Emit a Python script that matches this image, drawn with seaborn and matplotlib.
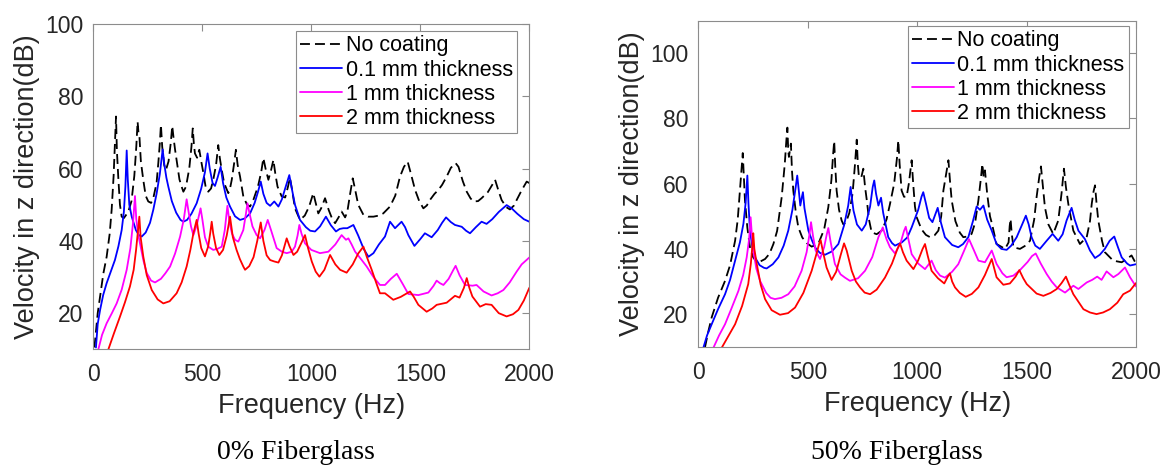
import pandas as pd
import numpy as np
import matplotlib
matplotlib.use('Agg')
import matplotlib.pyplot as plt
import seaborn as sns

#DATA (frequency Hz, velocity dB)
series_names = ['No coating', '0.1 mm thickness', '1 mm thickness', '2 mm thickness']
series_colors = ['black', '#0000FF', '#FF00FF', '#FF0000']

#0% fiberglass
left_none = [(5, 10.5), (20, 20), (31, 24.6), (46, 31), (61, 35.6), (75, 42), (84, 48.6), (93, 58), (100, 68), (104, 74.4),
             (108, 65), (115, 56.9), (122, 50), (130, 46.7), (140, 46.3), (160, 48), (175, 51), (188, 58), (197, 66), (203, 73),
             (207, 70), (211, 69.3), (218, 62), (229, 56.9), (240, 52.5), (252, 50.9), (265, 50.5), (275, 51.8), (290, 56),
             (298, 61.5), (305, 67), (310, 72.1), (316, 66), (325, 61), (333, 59.6), (345, 62), (355, 67), (362, 71.8),
             (368, 68.5), (375, 65.2), (385, 61), (395, 57), (405, 55), (413, 53.6), (425, 55), (440, 60), (450, 66),
             (456, 71.1), (461, 67), (466, 64.2), (476, 63), (486, 65.2), (495, 62), (505, 58.7), (515, 55), (527, 53.6),
             (540, 54.5), (550, 56.9), (563, 61), (573, 66.5), (580, 63), (589, 59.6), (600, 56), (619, 53.2), (627, 54.5),
             (635, 56.9), (646, 61.5), (654, 65.2), (662, 61), (673, 57.8), (688, 52.3), (705, 50), (719, 49.5), (735, 51.5),
             (755, 55), (770, 59), (780, 62.9), (790, 60), (803, 56.9), (815, 59.5), (826, 62.4), (835, 58.5), (845, 55),
             (864, 52.3), (880, 52), (893, 55), (902, 57.5), (912, 54), (925, 49), (948, 45.8), (970, 47), (990, 49.5),
             (1009, 53.2), (1020, 50.5), (1032, 47.6), (1045, 49), (1063, 51.8), (1080, 48.5), (1095, 46.2), (1109, 44.9),
             (1125, 46.5), (1139, 48.1), (1155, 46.5), (1165, 48), (1178, 53), (1190, 57.3), (1200, 54.5), (1215, 50),
             (1239, 47.2), (1260, 46.7), (1285, 46.7), (1310, 47), (1330, 47.6), (1361, 49.5), (1385, 52.5), (1407, 57.8),
             (1425, 60.5), (1442, 61.9), (1455, 59), (1476, 54.1), (1495, 51), (1514, 49), (1530, 49.8), (1544, 51.3),
             (1565, 53), (1583, 54.1), (1600, 55.5), (1621, 57.8), (1640, 60.2), (1662, 61.5), (1675, 60.5), (1695, 56.5),
             (1713, 53.6), (1730, 51.8), (1743, 50.9), (1765, 51), (1781, 51.8), (1810, 53.5), (1830, 55.5), (1843, 56.9),
             (1858, 54), (1873, 51.3), (1895, 49.3), (1911, 48.7), (1930, 49.8), (1942, 51.3), (1965, 54), (1988, 56.4),
             (2000, 56)]
left_01mm = [(12, 10.5), (20, 17), (31, 20.9), (45, 25), (61, 28.3), (80, 31.5), (99, 34.7), (115, 38.5), (130, 43),
             (140, 48), (147, 55), (153, 65), (158, 57), (165, 50), (176, 46.7), (195, 43), (210, 41.5), (222, 41.2),
             (240, 42.3), (260, 45), (275, 48.6), (290, 53), (305, 58.5), (318, 65.3), (326, 61), (335, 57.5), (344, 55),
             (360, 51), (380, 47.8), (400, 45.8), (413, 45.3), (430, 45.8), (450, 47.5), (474, 50.4), (495, 54.5),
             (512, 59), (524, 64.2), (534, 60), (547, 56), (558, 55.2), (570, 57.5), (584, 60.5), (595, 56), (610, 52),
             (627, 49.5), (650, 46.8), (673, 45.8), (695, 46.2), (719, 47.6), (740, 50.5), (755, 53.5), (768, 56.4),
             (780, 53), (795, 50.5), (811, 49.7), (830, 50.9), (849, 49.5), (865, 51.5), (880, 54.5), (899, 58.2),
             (912, 54), (925, 50), (948, 45.8), (975, 43.8), (995, 42.8), (1017, 42.6), (1040, 44), (1067, 46.7),
             (1090, 44.3), (1113, 42.6), (1130, 43.3), (1147, 43.5), (1165, 43.5), (1193, 44.4), (1215, 41.5),
             (1240, 37.8), (1262, 35.6), (1285, 36.6), (1310, 39), (1338, 41.2), (1361, 45.3), (1384, 43.5),
             (1414, 45.3), (1430, 43.8), (1445, 41.6), (1473, 38.6), (1500, 40.5), (1521, 42.1), (1552, 41), (1580, 43),
             (1600, 45), (1618, 46.5), (1640, 45.2), (1659, 44.4), (1690, 43.9), (1710, 42.8), (1728, 42.1), (1755, 43.8),
             (1781, 45.3), (1804, 44.7), (1830, 46), (1860, 48), (1896, 49.9), (1919, 49), (1945, 47.5), (1975, 46),
             (2000, 45.3)]
left_1mm = [(23, 10), (40, 14), (61, 17.2), (85, 20), (107, 22.7), (130, 26.5), (153, 32), (170, 38), (182, 45),
            (191, 52.4), (197, 46), (205, 42), (214, 39.3), (230, 34.5), (245, 31.1), (265, 29), (283, 28.5), (310, 29.5),
            (330, 31), (352, 32.9), (375, 36.5), (398, 41.2), (415, 46), (428, 51.5), (437, 48), (448, 44), (459, 41.6),
            (475, 44.5), (492, 49), (500, 46), (512, 41), (527, 38.4), (550, 37.5), (570, 37.8), (589, 38.4), (603, 43),
            (615, 49.7), (625, 45), (636, 42), (650, 40.3), (665, 39.8), (688, 43), (700, 47.5), (707, 50.4), (715, 48),
            (730, 44), (749, 41.6), (765, 40.7), (785, 43), (800, 45.8), (815, 43), (841, 38), (865, 37), (887, 36.6),
            (910, 37), (925, 38.4), (937, 41.5), (945, 44.4), (955, 42), (971, 39.3), (1000, 37.5), (1040, 36.6),
            (1078, 37), (1110, 39), (1139, 41.6), (1159, 40.3), (1170, 40.7), (1185, 39), (1201, 37), (1230, 34.8),
            (1254, 32.9), (1285, 30), (1315, 27.8), (1338, 27.8), (1365, 29.5), (1392, 30.9), (1420, 28), (1445, 25.3),
            (1491, 25), (1537, 25.7), (1560, 27.5), (1575, 29), (1590, 28.3), (1606, 27.8), (1630, 29.5), (1650, 31.8),
            (1662, 33.1), (1680, 30.5), (1705, 27.8), (1740, 27.6), (1758, 27.8), (1790, 26), (1827, 24.9), (1855, 25.5),
            (1881, 26.4), (1910, 28.5), (1942, 31.5), (1965, 33.5), (2000, 35.4)]
left_2mm = [(69, 10), (95, 14.5), (122, 19), (145, 23), (168, 27.4), (185, 32), (196, 37.5), (205, 43), (211, 46.7),
            (217, 41), (229, 35.7), (245, 30.5), (268, 26.4), (295, 23.8), (321, 22.7), (350, 23.3), (382, 25.5),
            (405, 28.5), (428, 32.9), (445, 37.5), (459, 42.1), (474, 45.8), (483, 42), (495, 38), (512, 35.7),
            (527, 38.5), (537, 42.5), (543, 45.3), (550, 42), (563, 38), (578, 36.1), (595, 37.5), (612, 41.5),
            (627, 46.7), (640, 41), (657, 37.5), (672, 35), (688, 32.9), (696, 32), (715, 33), (735, 35.5), (752, 40),
            (768, 45.1), (780, 40), (795, 36), (811, 34.7), (830, 34.3), (849, 34), (865, 36), (887, 40.7), (900, 38.5),
            (918, 36.1), (935, 37), (955, 39.5), (971, 41.6), (985, 38), (1002, 34.3), (1020, 31.5), (1037, 30.1),
            (1060, 32), (1086, 36.1), (1110, 33.5), (1132, 32), (1162, 31.2), (1190, 33.5), (1215, 36.5), (1239, 38.4),
            (1255, 35.5), (1277, 32), (1300, 28), (1315, 25.5), (1338, 25.5), (1376, 23.7), (1410, 24.5), (1453, 26),
            (1470, 24.5), (1491, 22.3), (1529, 20.4), (1555, 21.3), (1575, 22.3), (1621, 22.9), (1659, 24.8),
            (1680, 24.3), (1700, 27), (1713, 29.7), (1725, 27), (1739, 24.6), (1774, 21.8), (1800, 22.5), (1827, 22.3),
            (1860, 20), (1896, 19.1), (1925, 19.7), (1950, 20.9), (1975, 23.5), (2000, 27)]

#50% fiberglass
right_none = [(30, 9.7), (45, 14.5), (61, 19), (90, 25), (122, 30.2), (145, 35), (168, 42.5), (180, 49), (190, 58),
              (198, 65), (203, 69.4), (208, 62), (213, 54.9), (224, 46.5), (236, 40.5), (250, 37.5), (267, 35.9),
              (285, 36.2), (305, 36.9), (325, 38.5), (343, 41.5), (360, 45.5), (381, 55.9), (395, 66), (402, 73),
              (407, 77.2), (411, 70), (414, 68.2), (419, 70.5), (423, 72.3), (428, 64), (434, 57.9), (445, 51.5),
              (457, 46.6), (475, 43.5), (495, 41.8), (518, 40.7), (548, 41.5), (575, 46), (594, 52.8), (608, 61),
              (616, 69), (621, 73.1), (626, 65), (632, 57.9), (643, 52), (655, 48.7), (663, 47.5), (675, 48.2), (690, 51),
              (705, 57), (716, 66), (724, 73.5), (729, 66), (734, 62), (745, 62), (754, 64.6), (762, 59), (770, 54.9),
              (780, 49), (792, 45.1), (815, 44.5), (838, 45.6), (860, 49), (876, 53.8), (895, 60), (908, 68), (914, 73.3),
              (920, 66), (929, 57.9), (940, 56), (952, 56), (962, 60), (975, 67.2), (982, 60), (990, 53), (998, 49.7),
              (1020, 46), (1040, 44.3), (1059, 43.6), (1080, 44.2), (1097, 45.6), (1110, 50), (1120, 57.9), (1130, 62),
              (1143, 67.2), (1150, 61), (1158, 54.9), (1175, 48.5), (1195, 45), (1211, 43.6), (1230, 43.8), (1249, 44.6),
              (1265, 48), (1280, 54.9), (1292, 62), (1298, 66.1), (1304, 62), (1310, 64.1), (1320, 57), (1333, 50),
              (1341, 48), (1363, 41.5), (1402, 40), (1418, 42), (1423, 47), (1427, 49.2), (1432, 45), (1440, 40.5),
              (1470, 40), (1495, 41), (1516, 42.5), (1535, 49), (1546, 55.9), (1558, 62), (1566, 65.3), (1575, 59),
              (1584, 52.8), (1600, 47.5), (1622, 44.6), (1645, 48.7), (1660, 57), (1671, 64.6), (1680, 59), (1691, 53.8),
              (1714, 45.6), (1744, 41.5), (1775, 43.6), (1790, 48.5), (1798, 53.8), (1806, 57.5), (1813, 59.5),
              (1820, 54), (1828, 48.7), (1845, 42.5), (1858, 39), (1896, 36.4), (1935, 35.9), (1960, 37), (1980, 38),
              (2000, 35.5)]
right_01mm = [(23, 9.7), (40, 13.5), (61, 16.9), (90, 21.5), (122, 26.1), (145, 30.5), (168, 36.4), (190, 42),
              (206, 47.7), (216, 54), (224, 62.5), (229, 54), (236, 45.6), (247, 40.5), (259, 37.4), (280, 35),
              (300, 34.2), (312, 34), (340, 35.3), (366, 37.4), (390, 41), (411, 45.6), (430, 52), (445, 59), (452, 62.5),
              (459, 58), (466, 53.3), (472, 55.5), (478, 57.4), (485, 52.5), (503, 45.6), (520, 42.5), (533, 40.5),
              (555, 38.8), (579, 38.2), (610, 39.2), (640, 41.5), (666, 47.2), (685, 53.3), (696, 59), (703, 55),
              (709, 51.8), (725, 47.5), (747, 45.6), (765, 47.5), (785, 53), (797, 59), (804, 61), (812, 57),
              (823, 53.3), (835, 55.7), (845, 51), (868, 43.6), (885, 41.8), (899, 41), (930, 42), (955, 43.5),
              (975, 46.6), (1005, 52), (1020, 56), (1028, 57.4), (1040, 54), (1055, 49.5), (1070, 48.2), (1094, 52.6),
              (1105, 49), (1127, 43.6), (1160, 41.2), (1188, 40.5), (1210, 41.5), (1234, 43.6), (1255, 48.5),
              (1272, 53), (1287, 52), (1303, 53.3), (1320, 49), (1341, 45.6), (1363, 41.5), (1385, 40), (1409, 39.7),
              (1430, 41), (1455, 43.6), (1480, 47.5), (1497, 50.2), (1510, 47.5), (1523, 43.6), (1540, 41), (1561, 40),
              (1592, 42.5), (1619, 44.6), (1645, 42.5), (1665, 44.5), (1683, 48.7), (1706, 52.6), (1720, 49),
              (1737, 45.6), (1767, 43), (1790, 39.5), (1813, 37.2), (1835, 38.2), (1858, 40), (1880, 42.5), (1901, 43.8),
              (1918, 40.5), (1935, 37.4), (1960, 35.5), (1973, 34.9), (2000, 35.3)]
right_1mm = [(69, 9.7), (95, 13.5), (122, 16.9), (150, 21.5), (183, 27.1), (205, 32), (221, 37.4), (232, 43),
             (239, 49.7), (245, 44), (251, 39.5), (265, 34), (282, 30.2), (310, 26.5), (330, 25), (350, 24.6), (380, 25),
             (411, 26.1), (440, 28.5), (472, 33.3), (495, 39), (508, 44.5), (515, 48.2), (524, 44), (536, 39.5),
             (556, 36.9), (575, 40.5), (587, 44.5), (594, 46.4), (605, 42), (624, 35.4), (650, 32.2), (670, 31.2),
             (693, 30.2), (730, 31), (762, 33.3), (795, 37.5), (823, 43.6), (843, 46.6), (860, 43), (876, 40.5),
             (899, 38.6), (925, 42), (940, 45.5), (948, 46.8), (960, 43), (975, 38.4), (1005, 35.5), (1036, 33.8),
             (1066, 36.4), (1085, 33.5), (1105, 31.8), (1127, 31.2), (1160, 33), (1188, 35.3), (1215, 39.5), (1237, 43),
             (1260, 39.5), (1280, 36.4), (1310, 35.9), (1341, 39.5), (1363, 35.4), (1390, 32.5), (1409, 31.3),
             (1440, 31.8), (1470, 33.5), (1505, 36), (1525, 37.8), (1542, 38.6), (1565, 35.5), (1592, 32.3), (1615, 30),
             (1638, 28.2), (1676, 26.6), (1714, 28.7), (1737, 27.7), (1775, 29.7), (1800, 30.5), (1823, 31.5),
             (1843, 30.5), (1866, 33.1), (1897, 31.3), (1920, 32.3), (1950, 34.3), (1973, 31.3), (2000, 28.5)]
right_2mm = [(107, 9.7), (135, 13), (168, 16.9), (200, 22.5), (228, 29.2), (240, 35.5), (247, 41), (251, 44.8),
             (256, 40), (267, 35.4), (285, 29), (305, 24.6), (335, 21.2), (373, 19.8), (410, 20.3), (442, 22),
             (480, 26.5), (518, 33.3), (540, 38.5), (552, 41.5), (559, 42.7), (570, 39), (586, 34.3), (609, 30.5),
             (630, 33), (650, 38), (666, 41.7), (678, 39.5), (701, 33.3), (720, 30), (739, 28.2), (760, 26.6),
             (785, 26.1), (815, 27.5), (853, 31.2), (885, 35.5), (910, 40), (922, 41.7), (935, 39), (952, 36.4),
             (983, 33.8), (1005, 36.5), (1025, 40), (1036, 41.5), (1048, 38), (1066, 33.3), (1095, 31), (1124, 29.4),
             (1140, 31.5), (1150, 32.5), (1160, 30), (1173, 28.2), (1195, 26.5), (1222, 25.3), (1250, 26.2),
             (1280, 28.2), (1310, 32), (1341, 36.9), (1363, 31.3), (1394, 29), (1424, 29.4), (1450, 31.5), (1467, 33.5),
             (1485, 31), (1501, 29.2), (1546, 26.3), (1577, 25.6), (1610, 26.5), (1638, 27.7), (1660, 29.5),
             (1680, 31.5), (1695, 29), (1714, 26.1), (1740, 23.5), (1760, 21.5), (1790, 20.5), (1820, 20), (1850, 20.5),
             (1881, 21.5), (1915, 23.5), (1942, 26.1), (1973, 27.2), (2000, 29.5)]

x_ticks = [0, 500, 1000, 1500, 2000]
y_ticks = [20, 40, 60, 80, 100]
panel_titles = ['0% Fiberglass', '50% Fiberglass']


#build long table for seaborn
def to_frame(curves):
    parts = []
    for name, pts in zip(series_names, curves):
        d = pd.DataFrame(pts, columns=['freq', 'dB'])
        d['series'] = name
        parts.append(d)
    return pd.concat(parts, ignore_index=True)


left_df = to_frame([left_none, left_01mm, left_1mm, left_2mm])
right_df = to_frame([right_none, right_01mm, right_1mm, right_2mm])

#STYLE
sns.set_style('white')
plt.rcParams['font.family'] = ['Liberation Sans', 'DejaVu Sans']
text_col = '#262626'
spine_col = '#8c8c8c'

palette = dict(zip(series_names, series_colors))
dash_map = {series_names[0]: (5.5, 2.8), series_names[1]: '', series_names[2]: '', series_names[3]: ''}

fig = plt.figure(figsize=(11.61, 4.65), dpi=100)
ax_l = fig.add_axes([0.0804, 0.2488, 0.3755, 0.6996])
ax_r = fig.add_axes([0.6015, 0.2544, 0.3769, 0.7011])

panels = [(ax_l, left_df, 100, (0.972, 0.9785)), (ax_r, right_df, 110, (0.984, 0.9837))]
for ax, df, ytop, anchor in panels:
    sns.lineplot(data=df, x='freq', y='dB', hue='series', style='series',
                 hue_order=series_names, style_order=series_names,
                 palette=palette, dashes=dash_map, estimator=None, sort=False,
                 lw=1.3, ax=ax)
    ax.set_xlim(0, 2000)
    ax.set_ylim(10, ytop)
    ax.set_xticks(x_ticks)
    ax.set_yticks(y_ticks)
    ax.set_xlabel('Frequency (Hz)', fontsize=19.5, color=text_col, labelpad=5)
    ax.set_ylabel('Velocity in z direction(dB)', fontsize=19.5, color=text_col, labelpad=4)
    ax.tick_params(axis='both', direction='in', top=True, right=True, length=5,
                   width=0.8, color=spine_col, labelsize=16.5, labelcolor=text_col)
    ax.tick_params(axis='x', pad=10)
    ax.tick_params(axis='y', pad=7)
    for sp in ax.spines.values():
        sp.set_color(spine_col)
        sp.set_linewidth(0.8)

    handles, labels = ax.get_legend_handles_labels()
    leg = ax.legend(handles, labels, loc='upper right', bbox_to_anchor=anchor, borderaxespad=0,
                    fontsize=15.5, frameon=True, fancybox=False, framealpha=1, edgecolor=spine_col,
                    labelspacing=0.15, handlelength=1.95, handletextpad=0.15, borderpad=0.2)
    leg.get_frame().set_linewidth(0.8)
    for t in leg.get_texts():
        t.set_color('black')

fig.text(296 / 1161, 1 - 452 / 465, panel_titles[0], ha='center', va='center',
         fontsize=20, family=['Liberation Serif', 'DejaVu Serif'], color='black')
fig.text(897 / 1161, 1 - 452 / 465, panel_titles[1], ha='center', va='center',
         fontsize=20, family=['Liberation Serif', 'DejaVu Serif'], color='black')

fig.savefig('out.png', dpi=100)
